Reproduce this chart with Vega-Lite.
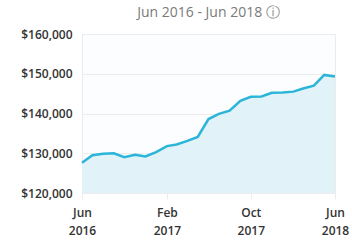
{
  "$schema": "https://vega.github.io/schema/vega-lite/v6.json",
  "width": 253,
  "height": 159,
  "autosize": "none",
  "padding": {"left": 82, "top": 34, "right": 17, "bottom": 47},
  "background": "white",
  "title": {
    "text": "Jun 2016 - Jun 2018 ⓘ",
    "font": "Open Sans",
    "fontSize": 14,
    "fontWeight": "normal",
    "color": "#7a7a7a",
    "anchor": "middle",
    "offset": 8
  },
  "config": {
    "view": {"stroke": "#ececec", "fill": "#fbfdfe"},
    "axis": {
      "labelFont": "Open Sans",
      "labelFontSize": 12,
      "labelFontWeight": 600,
      "labelColor": "#333333"
    }
  },
  "data": {
    "values": [
      {"date": "2016-06-01", "value": 127600},
      {"date": "2016-07-01", "value": 129500},
      {"date": "2016-08-01", "value": 129900},
      {"date": "2016-09-01", "value": 130000},
      {"date": "2016-10-01", "value": 129000},
      {"date": "2016-11-01", "value": 129600},
      {"date": "2016-12-01", "value": 129200},
      {"date": "2017-01-01", "value": 130300},
      {"date": "2017-02-01", "value": 131800},
      {"date": "2017-03-01", "value": 132200},
      {"date": "2017-04-01", "value": 133100},
      {"date": "2017-05-01", "value": 134100},
      {"date": "2017-06-01", "value": 138600},
      {"date": "2017-07-01", "value": 139900},
      {"date": "2017-08-01", "value": 140700},
      {"date": "2017-09-01", "value": 143200},
      {"date": "2017-10-01", "value": 144200},
      {"date": "2017-11-01", "value": 144300},
      {"date": "2017-12-01", "value": 145200},
      {"date": "2018-01-01", "value": 145300},
      {"date": "2018-02-01", "value": 145500},
      {"date": "2018-03-01", "value": 146300},
      {"date": "2018-04-01", "value": 147000},
      {"date": "2018-05-01", "value": 149700},
      {"date": "2018-06-01", "value": 149300}
    ]
  },
  "encoding": {
    "x": {
      "field": "date",
      "type": "temporal",
      "scale": {"type": "utc"},
      "axis": {
        "title": null,
        "domain": false,
        "grid": false,
        "tickColor": "#ececec",
        "tickSize": 6,
        "labelPadding": 8,
        "labelAlign": "center",
        "labelLineHeight": 18,
        "labelOverlap": false,
        "labelBound": false,
        "labelFlush": false,
        "values": [
          {"year": 2016, "month": 6, "date": 1, "utc": true},
          {"year": 2017, "month": 2, "date": 1, "utc": true},
          {"year": 2017, "month": 10, "date": 1, "utc": true},
          {"year": 2018, "month": 6, "date": 1, "utc": true}
        ],
        "labelExpr": "[utcFormat(datum.value, '%b'), utcFormat(datum.value, '%Y')]"
      }
    },
    "y": {
      "field": "value",
      "type": "quantitative",
      "scale": {"domain": [120000, 160000], "nice": false, "zero": false},
      "axis": {
        "title": null,
        "domain": false,
        "ticks": false,
        "values": [120000, 130000, 140000, 150000, 160000],
        "format": "$,.0f",
        "labelPadding": 10,
        "gridColor": "#ececec"
      }
    }
  },
  "layer": [
    {
      "mark": {"type": "area", "color": "#e2f2f9", "opacity": 1},
      "encoding": {"y2": {"datum": 120000}}
    },
    {"mark": {"type": "line", "color": "#2bb5d8", "strokeWidth": 2.5}}
  ]
}
